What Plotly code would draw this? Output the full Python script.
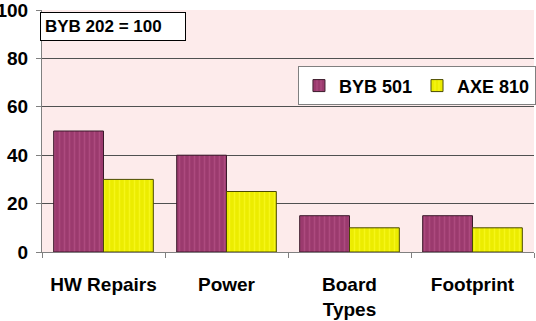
import plotly.graph_objects as go

categories = ["HW Repairs", "Power", "Board<br>Types", "Footprint"]
byb501 = [50, 40, 15, 15]
axe810 = [30, 25, 10, 10]
series_names = ["BYB 501", "AXE 810"]
y_ticks = [0, 20, 40, 60, 80, 100]

FONT = "Liberation Sans, Arial, sans-serif"

fig = go.Figure()
fig.add_trace(go.Bar(
    x=categories, y=byb501, name=series_names[0],
    marker=dict(color="#9B3A6E", line=dict(color="#3A1A2A", width=1),
                pattern=dict(shape="|", fgcolor="#C05A90", size=5, solidity=0.3)),
))
fig.add_trace(go.Bar(
    x=categories, y=axe810, name=series_names[1],
    marker=dict(color="#ECEC00", line=dict(color="#4A4A00", width=1),
                pattern=dict(shape="|", fgcolor="#FFFF30", size=5, solidity=0.3)),
))

fig.update_layout(
    width=536, height=321,
    margin=dict(l=42, r=0, t=10, b=69),
    paper_bgcolor="white",
    plot_bgcolor="#FDEBEB",
    barmode="group",
    bargap=0.19,
    bargroupgap=0,
    font=dict(family=FONT, color="black"),
    showlegend=True,
    legend=dict(
        orientation="h",
        x=1.004, xanchor="right",
        y=0.767, yanchor="top",
        bgcolor="white", bordercolor="#808080", borderwidth=1,
        font=dict(size=18, family=FONT, color="black", weight="bold"),
        traceorder="normal",
        itemwidth=30,
    ),
    annotations=[dict(
        text="<b>BYB 202 = 100</b>&nbsp;&nbsp;&nbsp;&nbsp;",
        xref="paper", yref="paper",
        x=-0.004, y=0.99, xanchor="left", yanchor="top",
        showarrow=False,
        font=dict(size=17, family=FONT, color="black"),
        bgcolor="white", bordercolor="black", borderwidth=1, borderpad=4,
    )],
)

fig.update_xaxes(
    showline=True, linecolor="#808080", linewidth=1,
    ticks="outside", ticklen=5, tickcolor="#808080",
    tickson="boundaries",
    tickfont=dict(size=19, family=FONT, color="black", weight="bold"),
    ticklabelstandoff=15,
    showgrid=False,
    automargin=False,
)
fig.update_yaxes(
    range=[0, 100], tickvals=y_ticks,
    showline=True, linecolor="#808080", linewidth=1,
    ticks="outside", ticklen=5, tickcolor="#808080",
    showgrid=True, gridcolor="#505050", gridwidth=1,
    tickfont=dict(size=19, family=FONT, color="black", weight="bold"),
    ticklabelstandoff=4,
    ticklabeloverflow="allow",
    zeroline=False,
    automargin=False,
)

fig.write_html("out.html")
